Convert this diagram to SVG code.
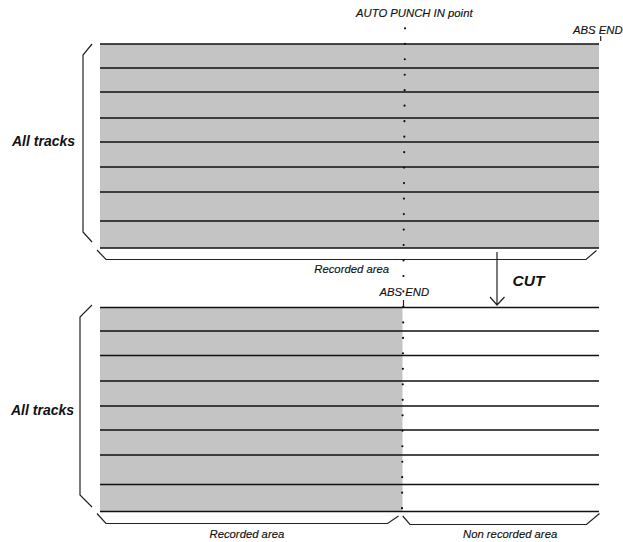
<svg xmlns="http://www.w3.org/2000/svg" width="623" height="542" viewBox="0 0 623 542">
<style>
.shade{fill:#c4c4c4;stroke:none}
.trk{stroke:#111;stroke-width:1.3;fill:none}
.br{stroke:#222;stroke-width:1.2;fill:none}
.lbl{font-family:"Liberation Sans",Arial,sans-serif;font-style:italic;font-size:11.3px;fill:#111;stroke:#111;stroke-width:0.15}
.big{font-family:"Liberation Sans",Arial,sans-serif;font-style:italic;font-weight:bold;font-size:14px;fill:#111}
.dots{stroke:#111;stroke-width:2.2;stroke-linecap:round;stroke-dasharray:0 15.48;fill:none}
</style>
<g id="top-block">
<rect class="shade" x="100" y="44" width="499" height="204"/>
<path class="trk" d="M100 44H599M100 68H599M100 92H599M100 118H599M100 142H599M100 167H599M100 192H599M100 221H599M100 248H599"/>
<path class="br" d="M92 44L83 55V232L92 242"/>
<path class="br" d="M97 250L106 259.5H586L596.5 250.5"/>
<text class="big" x="12" y="146">All tracks</text>
<text class="lbl" x="389" y="273" text-anchor="end">Recorded area</text>
</g>
<g id="bottom-block">
<rect class="shade" x="100" y="307" width="302.5" height="204.5"/>
<path class="trk" d="M100 307.5H599M100 331H599M100 355.5H599M100 381H599M100 406H599M100 430H599M100 455H599M100 484.5H599M100 511.5H599"/>
<path class="br" d="M92 305L80 317V495L92 507"/>
<path class="br" d="M97 513.5L106 523.5H387.5L398.5 516M402.7 516L410 524.5H586.5L599.5 513.5"/>
<text class="big" x="11" y="415">All tracks</text>
<text class="lbl" x="209.5" y="537.5">Recorded area</text>
<text class="lbl" x="463" y="537.5">Non recorded area</text>
</g>
<g id="markers">
<text class="lbl" x="356" y="17">AUTO PUNCH IN point</text>
<text class="lbl" x="573" y="34">ABS END</text>
<path class="br" d="M600.7 36V41"/>
<text class="lbl" x="404.3" y="295.5" text-anchor="middle">ABS END</text>
<path class="br" d="M403.5 300V307"/>
</g>
<g id="connectors">
<path class="dots" d="M405 28.3L402 508.4"/>
<path class="br" d="M497 252V305M490 297L497 305L504.5 297"/>
<text class="big" x="512.5" y="286" style="font-size:15.5px">CUT</text>
</g>
</svg>
